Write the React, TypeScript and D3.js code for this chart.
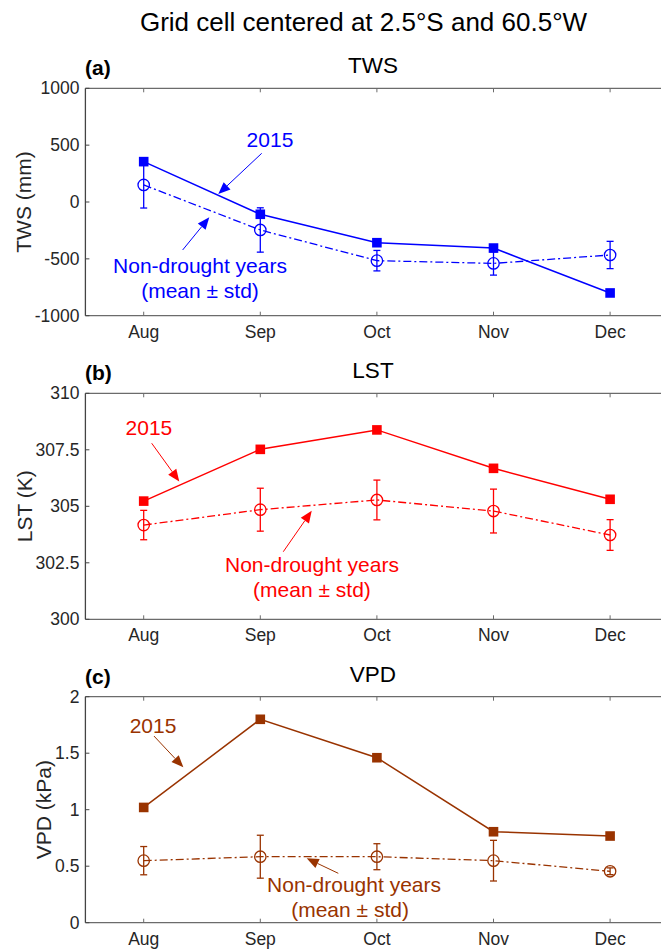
import React from "react";
import * as d3 from "d3";

const months = ["Aug", "Sep", "Oct", "Nov", "Dec"];

const tws2015 = [355, -108, -358, -405, -800];
const twsMean = [150, -246, -516, -540, -466];
const twsStd = [203, 195, 90, 103, 120];
const twsTicks = [-1000, -500, 0, 500, 1000];

const lst2015 = [305.23, 307.52, 308.38, 306.68, 305.31];
const lstMean = [304.17, 304.85, 305.28, 304.79, 303.73];
const lstStd = [0.65, 0.95, 0.88, 0.97, 0.68];
const lstTicks = [300, 302.5, 305, 307.5, 310];

const vpd2015 = [1.02, 1.8, 1.46, 0.805, 0.767];
const vpdMean = [0.549, 0.584, 0.584, 0.549, 0.455];
const vpdStd = [0.125, 0.19, 0.115, 0.18, 0.03];
const vpdTicks = [0, 0.5, 1, 1.5, 2];

const FONT = "Arial, 'Liberation Sans', Helvetica, sans-serif";

type Ann = {
  text2015: [number, number];
  arrow2015: [number, number, number, number];
  textND: [number, number, number, number];
  arrowND: [number, number, number, number];
};

type Panel = {
  label: string;
  title: string;
  ylabel: string;
  ylabelX: number;
  top: number;
  bottom: number;
  domain: [number, number];
  ticks: number[];
  s2015: number[];
  mean: number[];
  std: number[];
  color: string;
  ann: Ann;
};

const panels: Panel[] = [
  {
    label: "(a)",
    title: "TWS",
    ylabel: "TWS (mm)",
    ylabelX: 31,
    top: 88.3,
    bottom: 315.7,
    domain: [-1000, 1000],
    ticks: twsTicks,
    s2015: tws2015,
    mean: twsMean,
    std: twsStd,
    color: "#0000ff",
    ann: {
      text2015: [1.083, 481],
      arrow2015: [1.012, 428, 0.64, 70],
      textND: [0.483, -622, 0.483, -844],
      arrowND: [0.334, -422, 0.5626, -135],
    },
  },
  {
    label: "(b)",
    title: "LST",
    ylabel: "LST (K)",
    ylabelX: 32,
    top: 393.3,
    bottom: 619.3,
    domain: [300, 310],
    ticks: lstTicks,
    s2015: lst2015,
    mean: lstMean,
    std: lstStd,
    color: "#ff0000",
    ann: {
      text2015: [0.045, 308.15],
      arrow2015: [0.0686, 307.79, 0.305, 306.1],
      textND: [1.443, 302.11, 1.443, 301.0],
      arrowND: [1.197, 302.99, 1.441, 304.8],
    },
  },
  {
    label: "(c)",
    title: "VPD",
    ylabel: "VPD (kPa)",
    ylabelX: 51,
    top: 696.7,
    bottom: 922.7,
    domain: [0, 2],
    ticks: vpdTicks,
    s2015: vpd2015,
    mean: vpdMean,
    std: vpdStd,
    color: "#993300",
    ann: {
      text2015: [0.08, 1.676],
      arrow2015: [0.088, 1.652, 0.34, 1.375],
      textND: [1.804, 0.274, 1.77, 0.053],
      arrowND: [1.669, 0.437, 1.398, 0.57],
    },
  },
];

const x = d3.scaleLinear().domain([-0.5, 4.5]).range([85.4, 668.4]);
const idx = d3.range(months.length);

function Arrow({ x1, y1, x2, y2, color }: { x1: number; y1: number; x2: number; y2: number; color: string }) {
  const ang = Math.atan2(y2 - y1, x2 - x1);
  const L = 12;
  const W = 5;
  const bx = x2 - L * Math.cos(ang);
  const by = y2 - L * Math.sin(ang);
  const px = -Math.sin(ang) * W;
  const py = Math.cos(ang) * W;
  return (
    <g>
      <line x1={x1} y1={y1} x2={bx} y2={by} stroke={color} strokeWidth={1} />
      <polygon points={`${x2},${y2} ${bx + px},${by + py} ${bx - px},${by - py}`} fill={color} />
    </g>
  );
}

function PanelView({ p }: { p: Panel }) {
  const y = d3.scaleLinear().domain(p.domain).range([p.bottom, p.top]);
  const line = d3
    .line<number>()
    .x((_, i) => x(i))
    .y((d) => y(d));
  const axisColor = "#6b6b6b";
  const left = x(-0.5);
  const right = x(4.5);
  const a = p.ann;
  return (
    <g>
      <line x1={left} y1={p.top} x2={right} y2={p.top} stroke={axisColor} strokeWidth={1.3} />
      <line x1={left} y1={p.bottom} x2={right} y2={p.bottom} stroke={axisColor} strokeWidth={1.3} />
      <line x1={left} y1={p.top} x2={left} y2={p.bottom} stroke="#444" strokeWidth={1.3} />
      {idx.map((i) => (
        <g key={"xt" + i}>
          <line x1={x(i)} x2={x(i)} y1={p.bottom} y2={p.bottom - 4} stroke={axisColor} strokeWidth={1} />
          <line x1={x(i)} x2={x(i)} y1={p.top} y2={p.top + 4} stroke={axisColor} strokeWidth={1} />
          <text x={x(i)} y={p.bottom + 22} textAnchor="middle" fontSize={17.5} fill="#262626" fontFamily={FONT}>
            {months[i]}
          </text>
        </g>
      ))}
      {p.ticks.map((t) => (
        <g key={"yt" + t}>
          <line x1={left} x2={left + 4} y1={y(t)} y2={y(t)} stroke="#444" strokeWidth={1} />
          <text x={left - 6} y={y(t) + 6} textAnchor="end" fontSize={17.5} fill="#262626" fontFamily={FONT}>
            {String(t)}
          </text>
        </g>
      ))}
      <text
        transform={`translate(${p.ylabelX},${(p.top + p.bottom) / 2}) rotate(-90)`}
        textAnchor="middle"
        fontSize={21}
        fill="#262626"
        fontFamily={FONT}
      >
        {p.ylabel}
      </text>
      <text x={85} y={p.top - 13} fontSize={21} fontWeight="bold" fill="#000" fontFamily={FONT}>
        {p.label}
      </text>
      <text x={373} y={p.top - 15} textAnchor="middle" fontSize={22.5} fill="#000" fontFamily={FONT}>
        {p.title}
      </text>
      <path
        d={line(p.mean) || ""}
        fill="none"
        stroke={p.color}
        strokeWidth={1.3}
        strokeDasharray="8 3 2 3"
      />
      {p.mean.map((m, i) => (
        <g key={"eb" + i}>
          <line x1={x(i)} x2={x(i)} y1={y(m + p.std[i])} y2={y(m - p.std[i])} stroke={p.color} strokeWidth={1.3} />
          <line x1={x(i) - 3.5} x2={x(i) + 3.5} y1={y(m + p.std[i])} y2={y(m + p.std[i])} stroke={p.color} strokeWidth={1.3} />
          <line x1={x(i) - 3.5} x2={x(i) + 3.5} y1={y(m - p.std[i])} y2={y(m - p.std[i])} stroke={p.color} strokeWidth={1.3} />
          <circle cx={x(i)} cy={y(m)} r={5.7} fill="none" stroke={p.color} strokeWidth={1.3} />
        </g>
      ))}
      <path d={line(p.s2015) || ""} fill="none" stroke={p.color} strokeWidth={1.5} />
      {p.s2015.map((v, i) => (
        <rect key={"sq" + i} x={x(i) - 4.8} y={y(v) - 4.8} width={9.6} height={9.6} fill={p.color} />
      ))}
      <text x={x(a.text2015[0])} y={y(a.text2015[1])} textAnchor="middle" fontSize={21} fill={p.color} fontFamily={FONT}>
        2015
      </text>
      <Arrow x1={x(a.arrow2015[0])} y1={y(a.arrow2015[1])} x2={x(a.arrow2015[2])} y2={y(a.arrow2015[3])} color={p.color} />
      <text x={x(a.textND[0])} y={y(a.textND[1])} textAnchor="middle" fontSize={21} fill={p.color} fontFamily={FONT}>
        Non-drought years
      </text>
      <text x={x(a.textND[2])} y={y(a.textND[3])} textAnchor="middle" fontSize={21} fill={p.color} fontFamily={FONT}>
        (mean ± std)
      </text>
      <Arrow x1={x(a.arrowND[0])} y1={y(a.arrowND[1])} x2={x(a.arrowND[2])} y2={y(a.arrowND[3])} color={p.color} />
    </g>
  );
}

export default function App() {
  return (
    <svg
      width={661}
      height={951}
      style={{ position: "absolute", left: 0, top: 0, background: "#fff" }}
    >
      <rect x={0} y={0} width={661} height={951} fill="#fff" />
      <text x={363.5} y={31} textAnchor="middle" fontSize={26} fill="#000" fontFamily={FONT}>
        Grid cell centered at 2.5°S and 60.5°W
      </text>
      {panels.map((p) => (
        <PanelView key={p.label} p={p} />
      ))}
    </svg>
  );
}
